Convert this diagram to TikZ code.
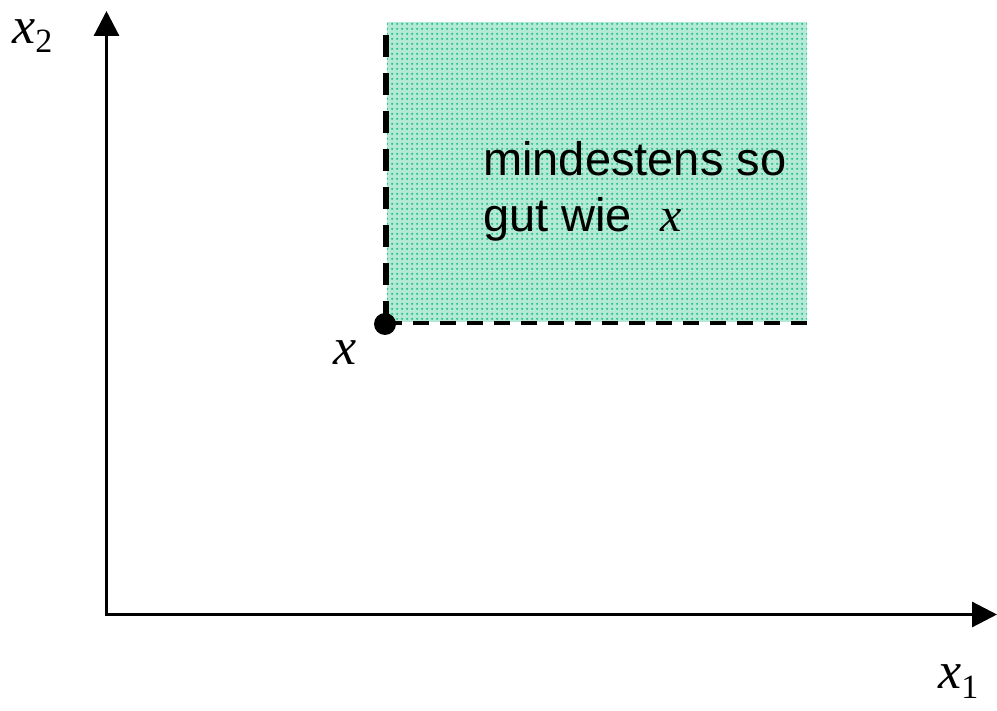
\documentclass[tikz,border=0pt]{standalone}
\usepackage{fontspec}
\setmainfont{Liberation Serif}
\newfontfamily\labelsans{Liberation Sans}
\usetikzlibrary{arrows.meta,patterns}

\definecolor{dotteal}{HTML}{1FC08B}
\definecolor{paleteal}{HTML}{B4E9D5}

% dotted screen used for the dominated region
\pgfdeclarepatternformonly{tealdots}{\pgfpointorigin}{\pgfpoint{5pt}{5pt}}{\pgfpoint{5pt}{5pt}}{%
  \pgfpathcircle{\pgfpoint{2.5pt}{2.5pt}}{1.4pt}\pgfusepath{fill}}

\tikzset{
  axis/.style={line width=3.2pt, {Triangle[width=25pt,length=25pt]}-{Triangle[width=25pt,length=25pt]}},
  vdash/.style={line width=6pt, dash pattern=on 22pt off 16pt},
  hdash/.style={line width=4pt, dash pattern=on 16pt off 11pt},
  varlabel/.style={inner sep=0pt, anchor=base, font=\fontsize{52}{52}\selectfont\itshape},
  regiontext/.style={inner sep=0pt, anchor=base west, align=left,
    font=\labelsans\fontsize{47}{56}\selectfont},
}

\begin{document}
\begin{tikzpicture}[x=1pt,y=-1pt]
\useasboundingbox (0,0) rectangle (997,711);

% shaded region "at least as good as x"
\fill[paleteal] (387,22) rectangle (807,322);
\fill[pattern=tealdots, pattern color=dotteal] (387,22) rectangle (807,322);

% axes
\coordinate (O) at (106.5,614.5);
\coordinate (ytip) at (106.5,11);
\coordinate (xtip) at (997,614.5);
\draw[axis] (ytip) -- (O) -- (xtip);

% boundary of the region through the point x
\coordinate (P) at (386,323);
\coordinate (Ptop) at (386,35);
\coordinate (Pright) at (807,323);
\draw[vdash] (P) -- (Ptop);
\draw[hdash] (P) -- (Pright);
\fill (385,324) circle[radius=11pt];

% labels
\node[varlabel] (xlab) at (345,365) {x};
\node[varlabel, anchor=base west] (x2lab) at (12,44)
  {x\raisebox{-9pt}{\fontsize{34}{34}\selectfont\upshape 2}};
\node[varlabel, anchor=base west] (x1lab) at (938,688)
  {x\raisebox{-10pt}{\fontsize{34}{34}\selectfont\upshape 1}};
% the base anchor of this two-line node sits on its second line
\node[regiontext] (txt) at (483,232)
  {mindestens so\\gut wie\hspace{0.6em}{\rmfamily\itshape\fontsize{48}{48}\selectfont x}};
\end{tikzpicture}
\end{document}
